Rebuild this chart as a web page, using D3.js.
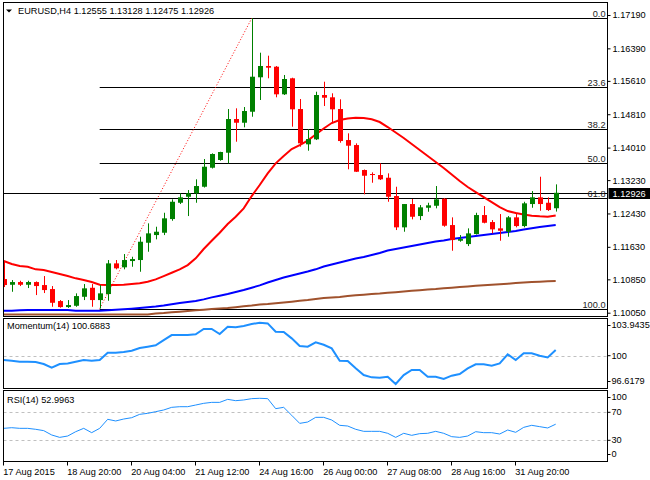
<!DOCTYPE html>
<html>
<head>
<meta charset="utf-8">
<script src="https://cdn.jsdelivr.net/npm/d3@7"></script>
<style>
  body { margin: 0; background: #fff; }
  svg { display: block; font-family: "Liberation Sans", Arial, sans-serif; font-size: 9.2px; }
</style>
</head>
<body>
<svg id="chart" width="650" height="480"></svg>
<script>
// EURUSD H4, 17 Aug - 1 Sep 2015
const symbol = "EURUSD,H4";

const opens = [1.10857,1.10720,1.10785,1.10720,1.10785,1.10713,1.10617,1.10329,1.10185,1.10216,
  1.10432,1.10648,1.10353,1.10497,1.11233,1.11138,1.11289,1.11313,1.11728,1.11912,
  1.11968,1.12296,1.12687,1.12831,1.12913,1.13071,1.13527,1.13712,1.13887,1.14695,
  1.14606,1.14870,1.15696,1.15967,1.15950,1.15288,1.15672,1.14935,1.14088,1.14208,
  1.15271,1.15216,1.14935,1.14191,1.14071,1.13472,1.13376,1.13352,1.13287,1.12848,
  1.12097,1.12656,1.12368,1.12567,1.12615,1.12783,1.12152,1.11776,1.11696,1.11936,
  1.12392,1.12224,1.12073,1.11992,1.12337,1.12128,1.12656,1.12817,1.12687,1.12555];
const highs = [1.11265,1.10833,1.10816,1.10816,1.10800,1.10929,1.10689,1.10353,1.10353,1.10514,
  1.10737,1.10737,1.10713,1.11313,1.11313,1.11457,1.11392,1.11872,1.12193,1.12112,
  1.12447,1.12769,1.12913,1.12992,1.13249,1.13736,1.13872,1.13910,1.14935,1.14952,
  1.14983,1.17110,1.16286,1.16214,1.15967,1.15751,1.15686,1.15175,1.14455,1.15350,
  1.15590,1.15312,1.15168,1.14352,1.14112,1.13484,1.13416,1.13632,1.13392,1.13071,
  1.12656,1.12776,1.12632,1.12687,1.13088,1.12800,1.12337,1.11912,1.12073,1.12447,
  1.12608,1.12272,1.12416,1.12368,1.12447,1.12711,1.12968,1.13311,1.12817,1.13128];
const lows = [1.10665,1.10552,1.10689,1.10641,1.10473,1.10521,1.10192,1.10170,1.10165,1.10192,
  1.10353,1.10192,1.10150,1.10336,1.11090,1.11090,1.11152,1.11032,1.11512,1.11809,
  1.11912,1.12255,1.12656,1.12368,1.12687,1.13052,1.13508,1.13695,1.13632,1.14151,
  1.14496,1.14750,1.15151,1.15672,1.15216,1.15271,1.14511,1.14031,1.13935,1.14191,
  1.15007,1.14592,1.14127,1.13489,1.13424,1.12889,1.13167,1.13232,1.12711,1.12032,
  1.11992,1.12289,1.12272,1.12471,1.12553,1.12112,1.11536,1.11752,1.11648,1.11924,
  1.12193,1.11953,1.11776,1.11872,1.12097,1.12097,1.12567,1.12495,1.12490,1.12475];
const closes = [1.10713,1.10785,1.10720,1.10785,1.10689,1.10593,1.10288,1.10185,1.10233,1.10449,
  1.10634,1.10353,1.10514,1.11233,1.11114,1.11313,1.11337,1.11752,1.11953,1.11992,
  1.12313,1.12711,1.12817,1.12913,1.13088,1.13551,1.13856,1.13904,1.14695,1.14606,
  1.14887,1.15710,1.15967,1.15926,1.15288,1.15655,1.14928,1.14112,1.14215,1.15271,
  1.15206,1.14928,1.14167,1.14055,1.13431,1.13335,1.13359,1.13249,1.12831,1.12097,
  1.12656,1.12351,1.12577,1.12625,1.12769,1.12136,1.11792,1.11816,1.11953,1.12392,
  1.12207,1.12049,1.12016,1.12337,1.12128,1.12673,1.12817,1.12656,1.12512,1.12926];

// moving averages
const maRed = [1.11289,1.11217,1.11169,1.11152,1.11090,1.11073,1.11025,1.10977,1.10929,1.10874,
  1.10833,1.10785,1.10720,1.10713,1.10713,1.10720,1.10737,1.10754,1.10792,1.10850,
  1.10929,1.11008,1.11090,1.11193,1.11353,1.11577,1.11776,1.11968,1.12176,1.12351,
  1.12553,1.12848,1.13112,1.13392,1.13632,1.13808,1.13976,1.14071,1.14179,1.14323,
  1.14467,1.14599,1.14671,1.14707,1.14727,1.14719,1.14688,1.14623,1.14503,1.14371,
  1.14239,1.14095,1.13951,1.13808,1.13664,1.13520,1.13364,1.13208,1.13064,1.12944,
  1.12824,1.12704,1.12584,1.12488,1.12440,1.12404,1.12376,1.12361,1.12351,1.12380];
const maBlue = [1.10096,1.10096,1.10106,1.10113,1.10113,1.10113,1.10113,1.10113,1.10113,1.10094,
  1.10094,1.10094,1.10094,1.10106,1.10118,1.10130,1.10144,1.10161,1.10178,1.10197,
  1.10221,1.10250,1.10281,1.10305,1.10329,1.10370,1.10418,1.10456,1.10497,1.10545,
  1.10593,1.10648,1.10706,1.10773,1.10833,1.10893,1.10941,1.10989,1.11037,1.11090,
  1.11157,1.11205,1.11253,1.11301,1.11349,1.11385,1.11433,1.11481,1.11541,1.11577,
  1.11613,1.11649,1.11685,1.11721,1.11757,1.11780,1.11816,1.11840,1.11864,1.11888,
  1.11912,1.11936,1.11960,1.11984,1.12008,1.12044,1.12073,1.12104,1.12128,1.12152];
const maBrown = [1.10005,1.10005,1.10005,1.10005,1.10005,1.10005,1.10005,1.10005,1.10005,1.10005,
  1.10005,1.10005,1.10005,1.10005,1.10005,1.10005,1.10005,1.10005,1.10005,1.10029,
  1.10041,1.10058,1.10072,1.10089,1.10106,1.10120,1.10137,1.10149,1.10161,1.10180,
  1.10202,1.10221,1.10245,1.10257,1.10274,1.10293,1.10312,1.10334,1.10353,1.10377,
  1.10401,1.10413,1.10425,1.10449,1.10466,1.10480,1.10497,1.10509,1.10526,1.10540,
  1.10557,1.10574,1.10588,1.10605,1.10617,1.10634,1.10651,1.10665,1.10679,1.10694,
  1.10708,1.10718,1.10732,1.10746,1.10761,1.10775,1.10785,1.10794,1.10804,1.10809];

const momentum = [99.48,99.40,99.28,99.28,99.24,99.00,98.57,99.00,99.08,99.28,
  99.48,99.40,99.48,100.36,100.36,100.44,100.60,100.92,101.08,101.24,
  101.87,102.47,102.47,102.47,102.55,103.19,103.19,102.59,103.47,103.39,
  103.55,103.78,103.9435,103.86,102.87,102.83,102.07,101.16,101.08,101.59,
  101.31,100.88,99.40,99.36,98.49,97.69,97.41,97.37,97.49,96.6179,
  97.69,98.29,98.29,97.49,97.49,97.21,97.61,97.81,98.49,98.97,
  98.97,98.81,99.08,100.16,99.48,100.28,100.28,100.00,99.80,100.6883];
const rsi = [47.1,48.0,47.1,47.1,45.7,43.8,37.6,34.2,36.1,42.3,
  47.1,40.9,47.1,60.0,57.6,60.4,62.3,67.1,68.5,70.9,
  73.3,77.1,78.0,78.0,80.4,82.8,84.2,84.2,88.5,86.6,
  87.6,89.5,90.0,89.5,75.2,77.1,65.7,54.2,56.1,62.8,
  62.8,59.0,51.4,50.4,45.7,42.8,42.8,42.8,40.0,34.2,
  40.0,37.1,39.5,40.0,42.8,40.0,35.2,34.2,36.1,42.3,
  40.9,40.9,39.0,44.7,41.4,48.5,51.4,49.5,47.6,52.9963];

const priceTicks = [1.17190,1.16390,1.15610,1.14810,1.14010,1.13230,1.12430,1.11630,1.10850,1.10050];
const momTicks = [103.9435,100,96.6179];
const rsiTicks = [100,70,30,0];
const rsiLevels = [70,30];
const fibLevels = [0,23.6,38.2,50,61.8,100];
const timeBars = [0,8,16,24,32,40,48,56,64];
const timeLabels = ["17 Aug 2015","18 Aug 20:00","20 Aug 04:00","21 Aug 12:00","24 Aug 16:00",
  "26 Aug 00:00","27 Aug 08:00","28 Aug 16:00","31 Aug 20:00"];

const svg = d3.select("#chart");
const fontSize = "9.2px";
const left = 3.5, right = 607.5;
const main = { top: 2.5, bottom: 316.5 };
const momP = { top: 318.5, bottom: 388.5 };
const rsiP = { top: 390.5, bottom: 461.5 };
const n = closes.length;
const last = n - 1;

const x = d3.scaleLinear().domain([0, last]).range([3.7, 555.7]);
const y = d3.scaleLinear().domain([1.10050, 1.17190]).range([312.7, 15]);
const yMom = d3.scaleLinear().domain([96.6179, 103.9435]).range([384, 322.7]);
const yRsi = d3.scaleLinear().domain([0, 100]).range([461.3, 391.3]);

const idx = d3.range(n);

// clip for the price panel
svg.append("clipPath").attr("id", "clipMain")
  .append("rect").attr("x", left).attr("y", main.top).attr("width", right - left).attr("height", main.bottom - main.top);

const g = svg.append("g").attr("clip-path", "url(#clipMain)");

// fibonacci retracement
const hi = d3.max(highs), lo = d3.min(lows);
const hiIdx = highs.indexOf(hi), loIdx = lows.indexOf(lo);
const fibPrice = lv => hi - (hi - lo) * lv / 100;

g.selectAll(".fib").data(fibLevels).join("line")
  .attr("class", "fib")
  .attr("x1", x(loIdx)).attr("x2", right)
  .attr("y1", d => Math.round(y(fibPrice(d))) + 0.5)
  .attr("y2", d => Math.round(y(fibPrice(d))) + 0.5)
  .attr("stroke", "#000").attr("stroke-width", 1);

g.append("line")
  .attr("x1", x(loIdx)).attr("y1", y(lo))
  .attr("x2", x(hiIdx)).attr("y2", y(hi))
  .attr("stroke", "#ff0000").attr("stroke-width", 1)
  .attr("stroke-dasharray", "1,2");

// current price line
const yLast = Math.round(y(closes[last])) + 0.5;
g.append("line")
  .attr("x1", left).attr("x2", right)
  .attr("y1", yLast).attr("y2", yLast)
  .attr("stroke", "#000").attr("stroke-width", 1);

// moving averages
const maLine = d3.line().x((d, i) => x(i)).y(d => y(d));
[[maBrown, "#a0522d"], [maBlue, "#0000ff"], [maRed, "#ff0000"]].forEach(([data, color]) => {
  g.append("path").datum(data)
    .attr("d", maLine)
    .attr("fill", "none")
    .attr("stroke", color)
    .attr("stroke-width", 2);
});

// candles
const candle = g.selectAll(".candle").data(idx).join("g").attr("class", "candle");
const col = i => closes[i] >= opens[i] ? "#008000" : "#ff0000";
candle.append("line")
  .attr("x1", i => Math.round(x(i)) + 0.5).attr("x2", i => Math.round(x(i)) + 0.5)
  .attr("y1", i => y(highs[i])).attr("y2", i => y(lows[i]))
  .attr("stroke", col).attr("stroke-width", 1);
candle.append("rect")
  .attr("x", i => Math.round(x(i)) - 2)
  .attr("width", 5)
  .attr("y", i => y(Math.max(opens[i], closes[i])))
  .attr("height", i => Math.max(1, y(Math.min(opens[i], closes[i])) - y(Math.max(opens[i], closes[i]))))
  .attr("fill", col);

// fib labels
svg.selectAll(".fibLabel").data(fibLevels).join("text")
  .attr("class", "fibLabel")
  .attr("x", right - 2)
  .attr("y", d => Math.round(y(fibPrice(d))) - 1.5)
  .attr("text-anchor", "end")
  .attr("fill", "#222")
  .text(d => d.toFixed(1));

// indicator panels
const momLine = d3.line().x((d, i) => x(i)).y(d => yMom(d));
const rsiLine = d3.line().x((d, i) => x(i)).y(d => yRsi(d));

const yM100 = Math.round(yMom(100)) + 0.5;
svg.append("line")
  .attr("x1", left).attr("x2", right).attr("y1", yM100).attr("y2", yM100)
  .attr("stroke", "#c0c0c0").attr("stroke-dasharray", "3,3");
svg.append("path").datum(momentum)
  .attr("d", momLine).attr("fill", "none")
  .attr("stroke", "#1e90ff").attr("stroke-width", 2);

svg.selectAll(".rsiLevel").data(rsiLevels).join("line")
  .attr("class", "rsiLevel")
  .attr("x1", left).attr("x2", right)
  .attr("y1", d => Math.round(yRsi(d)) + 0.5).attr("y2", d => Math.round(yRsi(d)) + 0.5)
  .attr("stroke", "#c0c0c0").attr("stroke-dasharray", "3,3");
svg.append("path").datum(rsi)
  .attr("d", rsiLine).attr("fill", "none")
  .attr("stroke", "#1e90ff").attr("stroke-width", 1);

// panel frames
[main, momP, rsiP].forEach(p => {
  svg.append("rect")
    .attr("x", left).attr("y", p.top)
    .attr("width", right - left).attr("height", p.bottom - p.top)
    .attr("fill", "none").attr("stroke", "#000").attr("stroke-width", 1);
});

// right price axis
const priceAxis = svg.append("g")
  .attr("transform", `translate(${right},0)`)
  .call(d3.axisRight(y).tickValues(priceTicks).tickSize(3).tickPadding(2).tickFormat(d => d.toFixed(5)));
priceAxis.select(".domain").remove();

// indicator axes, end labels kept inside the panel
const clampAxis = (scale, ticks, p, fmt) => {
  const pos = d => Math.max(p.top + 7, Math.min(p.bottom - 7, scale(d)));
  const ax = svg.append("g").attr("transform", `translate(${right},0)`);
  ax.selectAll("line").data(ticks).join("line")
    .attr("x1", 0).attr("x2", 3)
    .attr("y1", pos).attr("y2", pos)
    .attr("stroke", "#000");
  ax.selectAll("text").data(ticks).join("text")
    .attr("x", 4)
    .attr("y", pos)
    .attr("dy", "0.32em")
    .attr("fill", "#000")
    .text(fmt);
};
clampAxis(yMom, momTicks, momP, d => String(d));
clampAxis(yRsi, rsiTicks, rsiP, d => String(d));

// styled axis text
svg.selectAll(".tick text").attr("font-size", fontSize).attr("font-family", "Liberation Sans, Arial, sans-serif").attr("fill", "#000");

// current price tag
svg.append("rect")
  .attr("x", right + 1).attr("y", yLast - 5.5)
  .attr("width", 42).attr("height", 11)
  .attr("fill", "#000");
svg.append("text")
  .attr("x", right + 5).attr("y", yLast)
  .attr("dy", "0.35em")
  .attr("fill", "#fff")
  .text(closes[last].toFixed(5));

// time axis
const timeAxis = svg.append("g")
  .attr("transform", `translate(0,${rsiP.bottom})`)
  .call(d3.axisBottom(x).tickValues(timeBars).tickSize(4).tickPadding(3).tickFormat((d, i) => timeLabels[i]));
timeAxis.select(".domain").remove();
timeAxis.selectAll(".tick line").attr("transform", "translate(-0.7,0)");
timeAxis.selectAll(".tick text")
  .attr("text-anchor", "start")
  .attr("x", -1)
  .attr("font-size", fontSize)
  .attr("font-family", "Liberation Sans, Arial, sans-serif")
  .attr("fill", "#000");

// titles
svg.append("path")
  .attr("d", "M6,9.5 L12,9.5 L9,12.5 Z")
  .attr("fill", "#000");
svg.append("text")
  .attr("x", 18).attr("y", 14)
  .attr("fill", "#000")
  .text(`${symbol}  ${opens[last].toFixed(5)} ${highs[last].toFixed(5)} ${lows[last].toFixed(5)} ${closes[last].toFixed(5)}`);

svg.append("text")
  .attr("x", 7).attr("y", momP.top + 10)
  .attr("fill", "#000")
  .text(`Momentum(14) ${momentum[last]}`);
svg.append("text")
  .attr("x", 7).attr("y", rsiP.top + 12)
  .attr("fill", "#000")
  .text(`RSI(14) ${rsi[last]}`);
</script>
</body>
</html>
